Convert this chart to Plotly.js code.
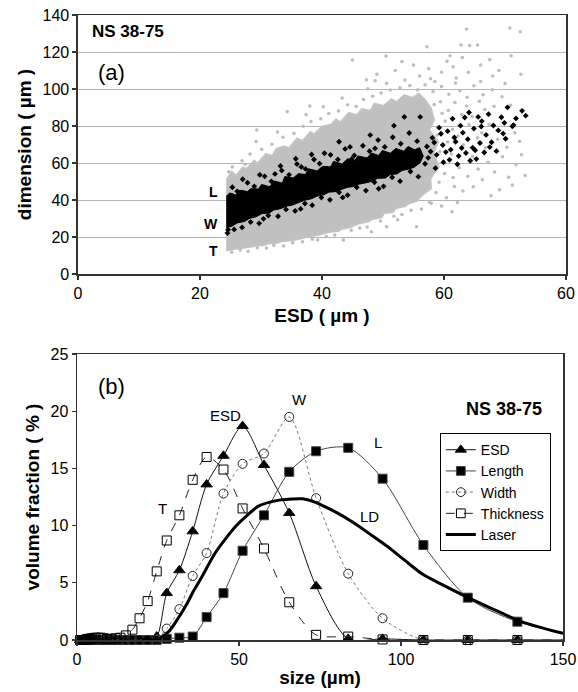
<!DOCTYPE html>
<html>
<head>
<meta charset="utf-8">
<script src="https://cdn.plot.ly/plotly-3.0.1.min.js"></script>
<style>html,body{margin:0;padding:0;background:#fff;}#chart{width:578px;height:692px;}</style>
</head>
<body>
<div id="chart"></div>
<script>
// ---------- Panel (a): dimension vs ESD ----------
// dense grey cloud outline (L, W and T points merged)
const grayDenseX = [24.3, 25.2, 25.9, 27.0, 27.6, 28.9, 29.4, 30.8, 31.9, 32.5, 33.8, 34.6, 35.9, 36.8, 38.1, 38.7, 40.0, 41.5, 42.3, 43.0, 44.4, 45.7, 46.5, 47.9, 48.6, 50.1, 51.4, 52.2, 53.5, 54.8, 55.9, 57.0,
  57.9, 58.4, 57.6, 59.1, 58.3, 59.2, 57.8, 57.9, 56.2, 55.6,
  54.2, 53.7, 52.1, 51.6, 50.2, 49.8, 48.2, 47.7, 46.1, 45.4, 44.6, 43.2, 42.7, 41.1, 40.4, 39.7, 38.1, 37.4, 36.2, 35.6, 34.1, 33.3, 32.7, 31.2, 30.4, 29.8, 28.3, 27.2, 26.8, 25.3, 24.3];
const grayDenseY = [51, 55.5, 53.2, 57.8, 56.9, 61.4, 59.8, 64.9, 64.1, 67.8, 69.2, 68.1, 73.4, 72.0, 76.9, 75.6, 79.8, 80.9, 83.8, 82.1, 87.2, 85.9, 89.3, 88.4, 92.2, 91.0, 94.6, 93.1, 96.8, 95.3, 97.6, 93.8,
  89.5, 83.2, 77.8, 71.6, 65.4, 57.9, 51.6, 46.1, 41.9, 39.4,
  37.9, 36.6, 35.4, 33.2, 32.9, 30.4, 29.6, 28.3, 27.2, 26.3, 25.1, 24.2, 23.1, 22.6, 21.7, 21.2, 20.3, 19.8, 19.1, 18.4, 17.8, 17.5, 16.7, 16.3, 15.4, 15.6, 14.6, 14.2, 13.7, 13.3, 12.5];
// scattered grey points
const grayX = [45, 57.2, 62.8, 64.2, 65.5, 50.5, 53.1, 47.3, 48.7, 49, 55, 57.5, 59.6, 60.5, 61.5, 63, 64, 66, 67.5, 69, 71, 70.8, 72.5, 63.7, 61, 52, 56, 58.5, 62, 66, 68, 70, 72.6,
  25.3, 26.9, 28.2, 27.4, 30.1, 29.2, 31.8, 33.6, 32.7, 35.4, 34.3, 36.9, 38.2, 37.4, 39.8, 41.1, 40.2, 42.7, 44.2, 43.3, 45.6, 46.8, 48.3, 47.5, 49.7, 51.2, 50.6, 52.8, 54.4, 55.7, 53.6, 56.9, 58.2, 57.8, 59.6, 60.8, 61.9, 62.6, 63.8, 64.9, 29.3, 38, 24.7,
  59.4, 60.7, 61.8, 62.9, 60.2, 63.7, 64.6, 61.4, 65.8, 66.7, 59.7, 62.3, 64.1, 66.2, 58.9, 60.6, 63.2, 65.5, 67.4, 61.2, 59.3, 64.7, 66.8, 62.5, 60.1, 63.9, 65.6, 59.2, 61.7, 58.7, 63.1, 60.4, 62.2, 64.8, 66.3, 57.9, 59.6, 61.5, 67.2, 68.3, 69.6, 68.8, 70.3, 71.8, 70.6, 72.7, 73.3, 69.1, 67.7, 71.2, 68.2, 69.5, 70.9, 71.6, 72.4, 66.4, 67.9, 58.4, 56.8, 57.6,
  25.2, 26.6, 27.9, 29.4, 30.9, 32.1, 33.7, 35.2, 36.8, 38.4, 39.3, 40.7, 42.1, 43.5, 44.8, 46.2, 47.4, 48.1, 49.6, 50.6, 51.8, 53.1, 54.6, 55.5, 56.3, 57.6, 61.3, 52.4];
const grayY = [115.7, 122.9, 123.8, 123.5, 123.8, 117.8, 114.8, 105, 104.5, 108, 113, 111, 109, 115, 112, 117, 109, 113, 116, 110, 118, 133, 131, 132.4, 118, 110, 107, 104, 106, 104, 107, 103, 108,
  57.8, 61.2, 64.9, 59.3, 67.4, 71.6, 70.2, 73.9, 76.8, 76.1, 87.7, 79.8, 82.4, 86.1, 83.9, 86.7, 90.4, 88.1, 91.5, 95.2, 90.6, 94.3, 96.1, 100.2, 97.8, 99.4, 103.1, 100.7, 101.9, 99.6, 104.8, 102.3, 98.7, 105.6, 101.4, 97.2, 103.3, 99.1, 95.6, 101.8, 77.8, 90.8, 55.3,
  93.1, 88.4, 92.7, 86.2, 82.7, 90.8, 85.1, 78.3, 93.4, 88.9, 86.9, 74.6, 80.7, 76.3, 75.2, 71.3, 69.8, 73.6, 80.9, 64.9, 66.1, 63.5, 68.2, 57.4, 54.3, 52.8, 56.7, 49.6, 47.3, 44.1, 44.8, 41.2, 38.6, 47.1, 50.9, 38.3, 36.8, 52.1, 60.4, 55.2, 63.4, 72.9, 68.5, 59.1, 52.3, 64.4, 53.2, 45.6, 42.3, 48.1, 90.7, 95.8, 91.2, 76.3, 71.8, 96.9, 99.6, 91.6, 88.4, 82.3,
  11.7, 13.0, 12.3, 14.2, 14.0, 15.6, 15.1, 16.9, 17.4, 18.8, 18.4, 20.3, 21.1, 18.4, 23.7, 24.9, 25.4, 22.9, 28.6, 25.6, 31.2, 32.1, 34.4, 25.6, 35.1, 38.9, 33.7, 29.3];
// dense black band outline
const blackDenseX = [24.3, 24.9, 25.9, 26.5, 27.8, 28.3, 29.6, 30.1, 31.4, 32.2, 33.5, 33.9, 35.3, 36.1, 37.3, 37.8, 39.2, 40.1, 41.4, 41.9, 43.3, 44.2, 45.4, 45.9, 47.4, 48.1, 49.3, 49.9, 51.2, 52.1, 53.4, 54.1, 55.2, 56.0,
  56.6, 56.1,
  55.1, 54.3, 53.1, 52.3, 51.2, 50.4, 49.1, 48.3, 47.2, 46.1, 45.3, 44.1, 43.2, 42.4, 41.1, 40.3, 39.2, 38.3, 37.1, 36.2, 35.1, 34.3, 33.2, 32.1, 31.3, 30.2, 29.1, 28.2, 27.3, 26.1, 25.2, 24.3];
const blackDenseY = [42, 43.8, 42.7, 45.3, 44.6, 46.1, 45.9, 48.4, 47.2, 50.3, 49.1, 52.7, 51.9, 54.2, 53.8, 56.9, 55.7, 58.2, 57.9, 60.9, 59.4, 62.3, 61.4, 63.8, 62.7, 65.4, 64.1, 66.8, 65.3, 67.9, 66.4, 68.9, 67.1, 68.3,
  63.8, 60.2,
  57.7, 56.8, 55.9, 54.1, 53.8, 51.9, 51.7, 50.2, 49.3, 48.6, 47.4, 46.8, 45.7, 44.6, 44.2, 42.8, 42.1, 40.7, 39.8, 38.7, 37.2, 36.8, 35.3, 34.6, 32.8, 32.7, 30.8, 30.2, 28.4, 27.6, 25.8, 25];
// scattered black points
const blackX = [57.4, 61.9, 59.2, 64.7, 58.6, 66.2, 60.3, 63.1, 67.8, 62.2, 69.4, 65.3, 71.2, 58.1, 64.1, 68.6, 72.8, 61.4, 66.9, 70.4, 59.8, 63.6, 65.9, 60.9, 68.1, 73.4, 62.7, 57.2, 70.1, 64.9, 67.3, 59.5, 71.8, 61.1, 66.6, 63.9, 58.8, 65.6, 69.9, 62.4, 60.6, 56.9, 64.3, 67.5, 71.4, 63.4, 66.1, 58.4, 61.7, 68.9, 69.7, 65.1, 59.9, 62.9, 57.8,
  25.3, 26.1, 27.8, 28.9, 30.6, 31.7, 33.4, 34.6, 35.9, 37.3, 38.7, 39.6, 41.4, 42.6, 43.8, 45.3, 46.7, 47.8, 49.2, 50.3, 51.6, 52.9, 54.3, 55.6, 27.0, 32.3, 36.6, 44.9, 48.7,
  25.6, 26.9, 28.3, 29.7, 31.2, 32.8, 34.1, 35.6, 37.2, 38.4, 39.9, 41.3, 42.8, 44.2, 45.7, 47.2, 48.6, 50.1, 51.5, 52.8, 54.5, 55.8, 30.4, 36.5, 43.4, 49.3,
  35.7, 40.4, 44.6, 47.9, 51.8, 29.8, 33.2, 38.3, 24.5, 24.6, 42.8, 53.5, 56.1];
const blackY = [62.8, 71.5, 79.1, 68.3, 57.2, 82.6, 65.9, 76.4, 71.2, 59.3, 84.7, 62.1, 79.8, 73.6, 87.3, 66.4, 88.2, 83.9, 75.2, 90.1, 69.7, 65.4, 70.8, 61.7, 80.3, 85.6, 80.2, 68.9, 73.1, 78.6, 86.4, 75.8, 84.1, 67.2, 65.7, 72.9, 64.4, 84.9, 81.7, 63.8, 77.2, 59.6, 61.2, 68.6, 80.5, 84.6, 79.7, 71.1, 73.8, 77.6, 75.9, 66.9, 60.4, 68.1, 66.2,
  46.9, 44.7, 49.3, 47.4, 52.8, 50.1, 55.9, 53.6, 59.4, 56.8, 61.9, 59.7, 64.4, 61.9, 67.6, 64.1, 69.3, 66.4, 72.4, 68.7, 73.9, 70.4, 76.2, 71.8, 51.2, 54.1, 57.9, 62.2, 67.9,
  24.1, 25.2, 28.1, 27.4, 31.6, 31.2, 34.9, 34.1, 38.1, 37.2, 41.3, 40.1, 44.2, 42.6, 46.9, 45.1, 49.6, 47.4, 52.3, 50.2, 55.4, 52.6, 29.8, 35.2, 41.4, 46.1,
  62.3, 65.3, 68.7, 75.1, 80.2, 53.6, 58.4, 64.6, 22.1, 23.9, 71.5, 84.9, 84.9];
const aXTicks = [0, 20, 40, 60, 80];
const aXTickText = ['0', '20', '40', '60', '60'];

// ---------- Panel (b): volume fraction vs size ----------
const binX = [1.0, 1.2, 1.3, 1.5, 1.7, 1.9, 2.2, 2.5, 2.8, 3.1, 3.5, 4.0, 4.5, 5.1, 5.7, 6.5, 7.3, 8.2, 9.3, 10.5, 11.9, 13.4, 15.1, 17.1, 19.3, 21.8, 24.6, 27.7, 31.6, 35.7, 40.0, 45.2, 51.1, 57.7, 65.5, 73.8, 83.7, 94.3, 106.9, 120.6, 135.9, 153.6];
const esdY = [0, 0, 0, 0, 0, 0, 0, 0, 0, 0, 0, 0, 0, 0, 0, 0, 0, 0, 0, 0, 0, 0, 0, 0, 0, 0, 0.3, 4.1, 6.1, 9.5, 13.6, 16.1, 18.7, 15.3, 11.1, 4.7, 0.1, 0.1, 0, 0, 0, 0];
const lengthY = [0, 0, 0, 0, 0, 0, 0, 0, 0, 0, 0, 0, 0, 0, 0, 0, 0, 0, 0, 0, 0, 0, 0, 0, 0, 0, 0, 0.1, 0.2, 0.3, 2.0, 4.1, 7.8, 10.9, 14.7, 16.5, 16.8, 14.1, 8.3, 3.7, 1.6, 0.45];
const widthY = [0, 0, 0, 0, 0, 0, 0, 0, 0, 0, 0, 0, 0, 0, 0, 0, 0, 0, 0, 0, 0, 0, 0, 0, 0, 0, 0.1, 1.0, 2.7, 5.6, 7.6, 12.8, 15.4, 16.3, 19.5, 12.4, 5.8, 1.9, 0, 0, 0, 0];
const thickY = [0, 0, 0, 0, 0, 0, 0, 0, 0.05, 0.05, 0.1, 0.1, 0.15, 0.15, 0.2, 0.2, 0.2, 0.15, 0.1, 0.1, 0.15, 0.2, 0.4, 0.9, 1.9, 3.4, 6.0, 8.7, 10.9, 14.0, 16.0, 14.9, 11.5, 8.0, 3.3, 0.45, 0.3, 0.05, 0, 0, 0, 0];
const laserX = [20, 25, 28.5, 31, 33.8, 36, 38.5, 42.4, 46, 49.2, 52.5, 56, 59.5, 62.9, 66.3, 69.7, 73, 76.5, 81, 85.6, 90.7, 95.9, 101, 106.7, 113, 120.4, 128, 136.3, 143, 150, 155];
const laserY = [0, 0.05, 0.8, 1.8, 3.1, 4.3, 5.5, 7.5, 8.9, 10.0, 10.9, 11.7, 12.05, 12.25, 12.33, 12.34, 12.1, 11.66, 11.0, 10.2, 9.2, 8.15, 7.0, 5.74, 4.8, 3.75, 2.75, 1.7, 1.1, 0.59, 0.4];
const seriesNames = ['ESD', 'Length', 'Width', 'Thickness', 'Laser'];

const FONT = 'Liberation Sans, Arial, sans-serif';
const XMAX_B = 150;
const sizesFor = (s) => binX.map(v => (v > XMAX_B ? 0 : s));

const traces = [
  {x: grayDenseX, y: grayDenseY, xaxis: 'x', yaxis: 'y', type: 'scatter', mode: 'lines', fill: 'toself',
   fillcolor: '#c0c0c0', line: {width: 1.5, color: '#c4c4c4'}, showlegend: false, hoverinfo: 'skip'},
  {x: grayX, y: grayY, xaxis: 'x', yaxis: 'y', type: 'scatter', mode: 'markers',
   marker: {size: 3.5, color: '#bcbcbc'}, showlegend: false},
  {x: blackDenseX, y: blackDenseY, xaxis: 'x', yaxis: 'y', type: 'scatter', mode: 'lines', fill: 'toself',
   fillcolor: '#000', line: {width: 1, color: '#000'}, showlegend: false, hoverinfo: 'skip'},
  {x: blackX, y: blackY, xaxis: 'x', yaxis: 'y', type: 'scatter', mode: 'markers',
   marker: {size: 4.5, color: '#000', symbol: 'diamond'}, showlegend: false},

  {x: binX, y: esdY, xaxis: 'x2', yaxis: 'y2', type: 'scatter', mode: 'lines+markers', name: seriesNames[0], cliponaxis: false,
   line: {color: '#111', width: 1, shape: 'spline', smoothing: 0.8},
   marker: {symbol: 'triangle-up', size: sizesFor(10), color: '#000', opacity: 1}},
  {x: binX, y: lengthY, xaxis: 'x2', yaxis: 'y2', type: 'scatter', mode: 'lines+markers', name: seriesNames[1], cliponaxis: false,
   line: {color: '#444', width: 1, shape: 'spline', smoothing: 0.8},
   marker: {symbol: 'square', size: sizesFor(9), color: '#000', opacity: 1}},
  {x: binX, y: widthY, xaxis: 'x2', yaxis: 'y2', type: 'scatter', mode: 'lines+markers', name: seriesNames[2], cliponaxis: false,
   line: {color: '#777', width: 1, dash: 'dot', shape: 'spline', smoothing: 0.8},
   marker: {symbol: 'circle-open', size: sizesFor(9), color: '#222', opacity: 1, line: {width: 1}}},
  {x: binX, y: thickY, xaxis: 'x2', yaxis: 'y2', type: 'scatter', mode: 'lines+markers', name: seriesNames[3], cliponaxis: false,
   line: {color: '#222', width: 1, dash: 'dash', shape: 'spline', smoothing: 0.8},
   marker: {symbol: 'square-open', size: sizesFor(9), color: '#000', opacity: 1, line: {width: 1}}},
  {x: laserX, y: laserY, xaxis: 'x2', yaxis: 'y2', type: 'scatter', mode: 'lines', name: seriesNames[4],
   line: {color: '#000', width: 3, shape: 'spline', smoothing: 0.8}}
];

const axisCommon = {
  showline: true, mirror: true, linecolor: '#333', linewidth: 1.5,
  ticks: 'outside', ticklen: 4, tickcolor: '#333', tickwidth: 1.2,
  tickfont: {family: FONT, size: 16, color: '#000'}, zeroline: false
};

const layout = {
  width: 578, height: 692,
  margin: {l: 77, r: 12, t: 15, b: 52},
  paper_bgcolor: '#fff', plot_bgcolor: '#fff',
  font: {family: FONT, color: '#000'},
  xaxis: Object.assign({}, axisCommon, {
    domain: [0.002, 1], anchor: 'y', range: [0, 80], tickvals: aXTicks, ticktext: aXTickText,
    showgrid: false,
    title: {text: '<b>ESD ( µm )</b>', font: {family: FONT, size: 19}, standoff: 8}
  }),
  yaxis: Object.assign({}, axisCommon, {
    domain: [0.5856, 1], anchor: 'x', range: [0, 140], dtick: 20,
    showgrid: true, gridcolor: '#b4b4b4', gridwidth: 1,
    title: {text: '<b>dimension ( µm )</b>', font: {family: FONT, size: 19}, standoff: 6}
  }),
  xaxis2: Object.assign({}, axisCommon, {
    domain: [0, 0.994], anchor: 'y2', range: [0, XMAX_B], dtick: 50, showgrid: false,
    title: {text: '<b>size (µm)</b>', font: {family: FONT, size: 19}, standoff: 4}
  }),
  yaxis2: Object.assign({}, axisCommon, {
    domain: [0, 0.4576], anchor: 'x2', range: [0, 25], dtick: 5, showgrid: false,
    title: {text: '<b>volume fraction ( % )</b>', font: {family: FONT, size: 19}, standoff: 6}
  }),
  legend: {
    x: 0.742, y: 0.331, xanchor: 'left', yanchor: 'top',
    bordercolor: '#000', borderwidth: 1, bgcolor: '#fff',
    font: {family: FONT, size: 14, color: '#000'}
  },
  annotations: [
    {xref: 'x', yref: 'y', x: 2, y: 131, text: '<b>NS 38-75</b>', showarrow: false, xanchor: 'left', font: {size: 17}},
    {xref: 'x', yref: 'y', x: 3, y: 109, text: '(a)', showarrow: false, xanchor: 'left', font: {size: 22}},
    {xref: 'x', yref: 'y', x: 23.2, y: 44.5, text: '<b>L</b>', showarrow: false, xanchor: 'right', font: {size: 14}},
    {xref: 'x', yref: 'y', x: 23.2, y: 27.3, text: '<b>W</b>', showarrow: false, xanchor: 'right', font: {size: 14}},
    {xref: 'x', yref: 'y', x: 23.2, y: 12.3, text: '<b>T</b>', showarrow: false, xanchor: 'right', font: {size: 14}},
    {xref: 'x2', yref: 'y2', x: 6, y: 22.2, text: '(b)', showarrow: false, xanchor: 'left', font: {size: 22}},
    {xref: 'x2', yref: 'y2', x: 45.8, y: 19.6, text: 'ESD', showarrow: false, font: {size: 15}},
    {xref: 'x2', yref: 'y2', x: 68.6, y: 21.0, text: 'W', showarrow: false, font: {size: 15}},
    {xref: 'x2', yref: 'y2', x: 26.4, y: 11.5, text: 'T', showarrow: false, font: {size: 15}},
    {xref: 'x2', yref: 'y2', x: 93, y: 17.3, text: 'L', showarrow: false, font: {size: 15}},
    {xref: 'x2', yref: 'y2', x: 90.2, y: 10.8, text: 'LD', showarrow: false, font: {size: 15}},
    {xref: 'x2', yref: 'y2', x: 131.8, y: 20.2, text: '<b>NS 38-75</b>', showarrow: false, font: {size: 18}}
  ]
};

Plotly.newPlot('chart', traces, layout, {staticPlot: true, displayModeBar: false});
</script>
</body>
</html>
